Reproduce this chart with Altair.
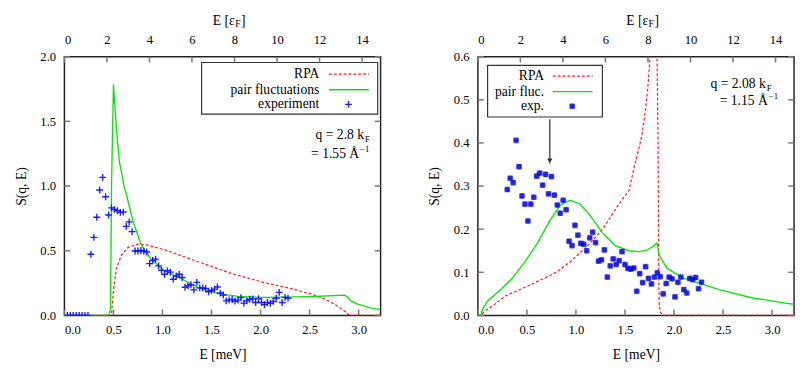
import altair as alt
import pandas as pd

FONT = "'Liberation Serif', 'Times New Roman', 'DejaVu Serif', serif"
W, H = 325, 266
EF_MEV = 0.2168          # 1 epsilon_F in meV
E_MAX = 3.224            # meV at right edge
EF_MAX = E_MAX / EF_MEV  # epsilon_F at right edge

# ---------------- tick values ----------------
bottom_ticks = [0.0, 0.5, 1.0, 1.5, 2.0, 2.5, 3.0]
top_ticks = [0, 2, 4, 6, 8, 10, 12, 14]
left_y_ticks = [0.0, 0.5, 1.0, 1.5, 2.0]
right_y_ticks = [0.0, 0.1, 0.2, 0.3, 0.4, 0.5, 0.6]

# ---------------- left panel (q = 2.8 kF) ----------------
left_exp_E = [0.03, 0.06, 0.09, 0.12, 0.15, 0.18, 0.21, 0.24,
              0.27, 0.30, 0.33, 0.36, 0.39, 0.42, 0.45, 0.48, 0.51, 0.54,
              0.57, 0.60, 0.63, 0.66, 0.69, 0.72, 0.75, 0.78, 0.81, 0.84,
              0.87, 0.90, 0.93, 0.96, 0.99, 1.02, 1.05, 1.08, 1.11, 1.14,
              1.17, 1.20, 1.23, 1.26, 1.29, 1.32, 1.35, 1.38, 1.41, 1.44,
              1.47, 1.50, 1.53, 1.56, 1.59, 1.62, 1.65, 1.68, 1.71, 1.74,
              1.77, 1.80, 1.83, 1.86, 1.89, 1.92, 1.95, 1.98, 2.01, 2.04,
              2.07, 2.10, 2.13, 2.16, 2.19, 2.22, 2.25, 2.28]
left_exp_S = [0, 0, 0, 0, 0, 0, 0, 0,
              0.473, 0.603, 0.759, 0.969, 1.067, 0.917, 0.776, 0.831, 0.819, 0.809,
              0.796, 0.799, 0.688, 0.723, 0.648, 0.498, 0.498, 0.502, 0.496, 0.490,
              0.400, 0.425, 0.435, 0.383, 0.348, 0.318, 0.345, 0.335, 0.280, 0.305,
              0.318, 0.293, 0.218, 0.228, 0.237, 0.198, 0.255, 0.213, 0.213, 0.208,
              0.183, 0.193, 0.203, 0.220, 0.173, 0.158, 0.113, 0.120, 0.123, 0.110,
              0.118, 0.138, 0.095, 0.113, 0.125, 0.128, 0.100, 0.130, 0.100, 0.083,
              0.100, 0.093, 0.108, 0.133, 0.178, 0.100, 0.140, 0.133]

left_rpa_E = [0.0, 0.47, 0.48, 0.49, 0.50, 0.53, 0.58, 0.65, 0.745, 0.84, 1.04,
              1.37, 1.70, 2.03, 2.33, 2.53, 2.66, 2.78, 2.85, 2.90, 2.92, 3.224]
left_rpa_S = [0.0, 0.0, 0.01, 0.10, 0.19, 0.363, 0.463, 0.526, 0.551, 0.545, 0.503,
              0.413, 0.325, 0.255, 0.205, 0.162, 0.125, 0.075, 0.038, 0.005, 0.0, 0.0]

left_pf_E = [0.0, 0.45, 0.47, 0.48, 0.50, 0.53, 0.56, 0.58, 0.61, 0.63, 0.70, 0.78,
             0.88, 1.01, 1.17, 1.37, 1.57, 1.77, 2.03, 2.36, 2.60, 2.80, 2.86,
             2.89, 2.92, 2.99, 3.13, 3.224]
left_pf_S = [0.0, 0.0, 0.05, 1.00, 1.785, 1.45, 1.19, 1.114, 0.99, 0.94, 0.726, 0.551,
             0.438, 0.350, 0.293, 0.213, 0.168, 0.147, 0.139, 0.143, 0.148, 0.155, 0.157,
             0.140, 0.112, 0.087, 0.057, 0.045]

# ---------------- right panel (q = 2.08 kF) ----------------
right_exp_E = [0.30, 0.33, 0.36, 0.39, 0.42, 0.45, 0.48, 0.51, 0.54, 0.57,
               0.60, 0.63, 0.66, 0.69, 0.72, 0.75, 0.78, 0.81, 0.84, 0.87,
               0.90, 0.93, 0.96, 0.99, 1.02, 1.05, 1.08, 1.11, 1.14, 1.17,
               1.20, 1.23, 1.26, 1.29, 1.32, 1.35, 1.38, 1.41, 1.44, 1.47,
               1.50, 1.53, 1.56, 1.59, 1.62, 1.65, 1.68, 1.71, 1.74, 1.77,
               1.80, 1.83, 1.86, 1.89, 1.92, 1.95, 1.98, 2.01, 2.04, 2.07,
               2.10, 2.13, 2.16, 2.19, 2.22, 2.25, 2.28]
right_exp_S = [0.292, 0.318, 0.308, 0.406, 0.345, 0.277, 0.258, 0.219, 0.258, 0.274,
               0.323, 0.330, 0.302, 0.327, 0.282, 0.322, 0.279, 0.256, 0.237, 0.267,
               0.245, 0.172, 0.162, 0.209, 0.186, 0.167, 0.165, 0.150, 0.180, 0.193,
               0.169, 0.126, 0.129, 0.152, 0.089, 0.115, 0.131, 0.118, 0.127, 0.148,
               0.118, 0.109, 0.107, 0.110, 0.056, 0.097, 0.076, 0.113, 0.086, 0.073,
               0.089, 0.099, 0.090, 0.050, 0.074, 0.089, 0.085, 0.043, 0.077, 0.089,
               0.060, 0.052, 0.086, 0.083, 0.088, 0.062, 0.077]

right_rpa_E = [0.0, 0.03, 0.07, 0.15, 0.28, 0.45, 0.61, 0.80, 0.94, 1.10, 1.27, 1.44,
               1.54, 1.60, 1.64, 1.67, 1.70, 1.73, 1.757, 1.78, 1.80, 1.815, 1.827,
               1.835, 1.840, 1.843, 1.846, 1.850, 1.86, 1.88, 1.90, 3.224]
right_rpa_S = [0.0, 0.0, 0.010, 0.022, 0.045, 0.062, 0.079, 0.100, 0.124, 0.157, 0.199, 0.259,
               0.289, 0.350, 0.385, 0.415, 0.460, 0.520, 0.600, 0.750, 0.850, 0.750, 0.600,
               0.450, 0.300, 0.150, 0.060, 0.025, 0.008, 0.002, 0.0, 0.0]

right_pf_E = [0.0, 0.03, 0.05, 0.10, 0.215, 0.35, 0.48, 0.61, 0.74, 0.84, 0.94, 1.04,
              1.14, 1.27, 1.40, 1.54, 1.64, 1.73, 1.80, 1.825, 1.85, 1.93, 2.10, 2.28,
              2.46, 2.79, 3.15, 3.224]
right_pf_S = [0.0, 0.0, 0.015, 0.034, 0.056, 0.086, 0.124, 0.169, 0.222, 0.256, 0.267, 0.259,
              0.233, 0.192, 0.162, 0.150, 0.148, 0.152, 0.162, 0.168, 0.139, 0.109, 0.086, 0.073,
              0.060, 0.041, 0.028, 0.026]

# arrow in right panel (data coordinates)
arrow_E = [0.733]
arrow_S_top = [0.455]
arrow_S_tip = [0.352]

RED = "#ff1a1a"
GREEN = "#10e010"
BLUE = "#1010ff"
PLUS = "M-1,0H1M0,-1V1"
STAR = "M-1,0H1M0,-1V1M-0.75,-0.75L0.75,0.75M-0.75,0.75L0.75,-0.75"
ONE = alt.Data(values=[{"k": 1}])


def txt(s, x, y, size=14, align="left", color="black"):
    return alt.Chart(ONE).mark_text(
        text=s, font=FONT, fontSize=size, align=align, baseline="middle", color=color
    ).encode(x=alt.value(x), y=alt.value(y))


def markers(chart, kind):
    if kind == "plus":
        return [chart.mark_point(shape=PLUS, size=49, filled=False, strokeWidth=1.4,
                                 color=BLUE, opacity=0.95, clip=True)]
    return [
        chart.mark_point(shape="square", size=34, filled=True, color="#5a5aff",
                         opacity=0.8, strokeWidth=0, clip=True),
        chart.mark_point(shape=STAR, size=30, filled=False, strokeWidth=1.6,
                         color="#0000c8", clip=True),
    ]


def panel(exp_E, exp_S, rpa_E, rpa_S, pf_E, pf_S, y_max, y_ticks, legend, annot,
          kind, with_arrow=False):
    xs = alt.Scale(domain=[0, E_MAX], nice=False, zero=False)
    ys = alt.Scale(domain=[0, y_max], nice=False, zero=False)
    X = alt.X("E:Q", scale=xs,
              axis=alt.Axis(values=bottom_ticks, format=".1f", title="E  [meV]",
                            labelPadding=9, titlePadding=11))
    Y = alt.Y("S:Q", scale=ys,
              axis=alt.Axis(values=y_ticks, format=".1f", title="S(q, E)",
                            labelPadding=9, titlePadding=12))

    exp_df = pd.DataFrame({"E": exp_E, "S": exp_S})
    rpa_df = pd.DataFrame({"E": rpa_E, "S": rpa_S})
    pf_df = pd.DataFrame({"E": pf_E, "S": pf_S})

    layers = []
    # inward ticks (bottom / left / right)
    bt = pd.DataFrame({"E": bottom_ticks})
    layers.append(alt.Chart(bt).mark_rule(color="#777", strokeWidth=1.5).encode(
        x=X, y=alt.value(H), y2=alt.value(H - 6)))
    yt = pd.DataFrame({"S": y_ticks})
    layers.append(alt.Chart(yt).mark_rule(color="#777", strokeWidth=1.5).encode(
        y=Y, x=alt.value(0), x2=alt.value(6)))
    layers.append(alt.Chart(yt).mark_rule(color="#777", strokeWidth=1.5).encode(
        y=Y, x=alt.value(W), x2=alt.value(W - 6)))

    # curves
    layers.append(alt.Chart(rpa_df).mark_line(color=RED, strokeDash=[3, 2], strokeWidth=1.2,
                                              clip=True).encode(x=X, y=Y))
    layers.append(alt.Chart(pf_df).mark_line(color=GREEN, strokeWidth=1.4,
                                             clip=True).encode(x=X, y=Y))
    # experiment
    layers += [m.encode(x=X, y=Y) for m in markers(alt.Chart(exp_df), kind)]

    # arrow
    if with_arrow:
        adf = pd.DataFrame({"E": arrow_E, "S": arrow_S_top, "S2": arrow_S_tip})
        hdf = pd.DataFrame({"E": arrow_E, "S": arrow_S_tip})
        layers.append(alt.Chart(adf).mark_rule(color="#555", strokeWidth=1.5).encode(
            x=X, y=Y, y2="S2:Q"))
        layers.append(alt.Chart(hdf).mark_point(shape="triangle-down", size=30, filled=True,
                                                color="#333", opacity=1, yOffset=-3).encode(
            x=X, y=Y))

    # legend
    bx0, bx1, by0, by1, tx, lx0, lx1, mx, ys_, labels = legend
    layers.append(alt.Chart(ONE).mark_rect(fill="white", stroke="#333", strokeWidth=1.2).encode(
        x=alt.value(bx0), x2=alt.value(bx1), y=alt.value(by0), y2=alt.value(by1)))
    for lab, yy in zip(labels, ys_):
        layers.append(txt(lab, tx, yy, align="right"))
    layers.append(alt.Chart(ONE).mark_rule(color=RED, strokeDash=[3, 2], strokeWidth=1.2).encode(
        x=alt.value(lx0), x2=alt.value(lx1), y=alt.value(ys_[0])))
    layers.append(alt.Chart(ONE).mark_rule(color=GREEN, strokeWidth=1.4).encode(
        x=alt.value(lx0), x2=alt.value(lx1), y=alt.value(ys_[1])))
    layers += [m.encode(x=alt.value(mx), y=alt.value(ys_[2]))
               for m in markers(alt.Chart(ONE), kind)]

    # annotation q = ... kF, = ... A^-1
    l1, l2, xr1, xr2, y1, y2 = annot
    layers.append(txt(l1, xr1, y1, align="right"))
    layers.append(txt("F", xr1 + 1, y1 + 4, size=9))
    layers.append(txt(l2, xr2, y2, align="right"))
    layers.append(txt("\u22121", xr2 + 1, y2 - 5, size=9))

    # top title E [eps_F]
    layers.append(txt("E  [\u03b5", 175, -37, align="right"))
    layers.append(txt("F", 175.5, -33, size=10))
    layers.append(txt("]", 181.5, -37))

    bottom = alt.layer(*layers)

    topdf = pd.DataFrame({"eF": top_ticks})
    top = alt.Chart(topdf).mark_rule(color="#777", strokeWidth=1.5).encode(
        x=alt.X("eF:Q", scale=alt.Scale(domain=[0, EF_MAX], nice=False, zero=False),
                axis=alt.Axis(orient="top", values=top_ticks, format="d", title=None,
                              labelPadding=11)),
        y=alt.value(0), y2=alt.value(6))

    return alt.layer(bottom, top).resolve_scale(x="independent").properties(width=W, height=H)


left = panel(left_exp_E, left_exp_S, left_rpa_E, left_rpa_S, left_pf_E, left_pf_S,
             2.0, left_y_ticks,
             (141, 322, 6, 59, 262, 272, 313, 292, [18, 34, 49],
              ["RPA", "pair fluctuations", "experiment"]),
             ("q = 2.8 k", "= 1.55 \u00c5", 308, 303, 81, 100),
             "plus")

right = panel(right_exp_E, right_exp_S, right_rpa_E, right_rpa_S, right_pf_E, right_pf_S,
              0.6, right_y_ticks,
              (10, 128, 9, 62, 68, 77, 118, 97, [20, 36, 51],
               ["RPA", "pair fluc.", "exp."]),
              ("q = 2.08 k", "= 1.15 \u00c5", 296, 298, 28, 46),
              "star", with_arrow=True)

chart = alt.hconcat(left, right, spacing=46).properties(
    padding={"left": 6, "top": 0, "right": 0, "bottom": 0}
).configure_axis(
    labelFont=FONT, titleFont=FONT, labelFontSize=13, titleFontSize=14,
    titleFontWeight="normal", labelColor="black", titleColor="black",
    grid=False, domain=False, ticks=False
).configure_view(stroke="#222", strokeWidth=1.5)

chart.save("out.html", embed_options={"renderer": "svg", "actions": False})
